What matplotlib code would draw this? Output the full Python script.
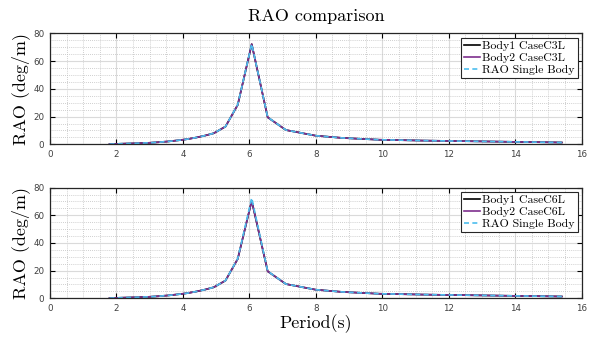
import numpy as np
import matplotlib.pyplot as plt
from matplotlib.ticker import MultipleLocator

# periods (s)
period = [1.79, 1.84, 1.89, 1.94, 2.00, 2.06, 2.12, 2.19, 2.26, 2.33, 2.41, 2.49,
          2.58, 2.68, 2.78, 2.89, 3.00, 3.13, 3.27, 3.41, 3.57, 3.75, 3.94, 4.15,
          4.38, 4.65, 4.93, 5.28, 5.65, 6.07, 6.55, 7.10, 8.00, 8.80, 9.90, 11.2,
          13.0, 15.4]

# top panel (case C3L)
body1_c3 = [0.1, 0.15, 0.2, 0.25, 0.3, 0.35, 0.4, 0.45, 0.5, 0.55, 0.6, 0.65,
            0.7, 0.8, 0.9, 1.0, 1.1, 1.3, 1.5, 1.8, 2.1, 2.6, 3.1, 3.8,
            4.8, 6.2, 8.0, 12.8, 28.5, 72.3, 19.5, 10.3, 6.2, 4.6, 3.3, 2.7,
            2.1, 1.3]
body2_c3 = list(body1_c3)
single = [0.1, 0.15, 0.2, 0.25, 0.3, 0.35, 0.4, 0.45, 0.5, 0.55, 0.6, 0.65,
          0.7, 0.8, 0.9, 1.0, 1.1, 1.3, 1.5, 1.8, 2.1, 2.6, 3.1, 3.8,
          4.8, 6.2, 8.0, 12.8, 28.8, 72.5, 19.6, 10.3, 6.2, 4.6, 3.3, 2.7,
          2.1, 1.3]

# bottom panel (case C6L)
body1_c6 = [0.1, 0.15, 0.2, 0.25, 0.3, 0.35, 0.4, 0.45, 0.5, 0.55, 0.6, 0.65,
            0.7, 0.8, 0.9, 1.0, 1.1, 1.3, 1.5, 1.8, 2.1, 2.6, 3.1, 3.8,
            4.8, 6.2, 8.0, 12.8, 28.5, 70.5, 19.5, 10.3, 6.2, 4.6, 3.3, 2.7,
            2.1, 1.3]
body2_c6 = list(body1_c6)

panels = [("Body1 CaseC3L", "Body2 CaseC3L", body1_c3, body2_c3),
          ("Body1 CaseC6L", "Body2 CaseC6L", body1_c6, body2_c6)]

cm = 'cmr10'
fig = plt.figure(figsize=(5.93, 3.41), dpi=100)
positions = [[0.0843, 0.5768, 0.8967, 0.325], [0.0843, 0.1252, 0.8967, 0.3247]]

for pos, (l1, l2, b1, b2) in zip(positions, panels):
    ax = fig.add_axes(pos)
    ax.plot(period, b1, color='black', lw=1.2, label=l1)
    ax.plot(period, b2, color='#7E2F8E', lw=1.2, label=l2)
    ax.plot(period, single, color='#4DBEEE', lw=1.2, ls=(0, (3, 2)), label='RAO Single Body')
    ax.set_xlim(0, 16)
    ax.set_ylim(0, 80)
    ax.xaxis.set_major_locator(MultipleLocator(2))
    ax.xaxis.set_minor_locator(MultipleLocator(0.5))
    ax.yaxis.set_major_locator(MultipleLocator(20))
    ax.yaxis.set_minor_locator(MultipleLocator(5))
    ax.grid(which='major', color='#dadada', lw=0.8, ls='-')
    ax.grid(which='minor', color='#c0c0c0', lw=0.6, ls=(0, (1, 1.5)))
    ax.set_axisbelow(True)
    ax.tick_params(which='major', direction='in', top=True, right=True, length=3.5,
                   width=0.8, labelsize=6.3, labelcolor='#404040', pad=4)
    ax.tick_params(which='minor', length=0)
    for s in ax.spines.values():
        s.set_linewidth(0.9)
        s.set_color('#262626')
    ax.set_ylabel('RAO (deg/m)', family=cm, fontsize=13, labelpad=2)
    leg = ax.legend(loc='upper right', prop={'family': cm, 'size': 8.5}, fancybox=False,
                    edgecolor='#262626', framealpha=1, handlelength=1.4, handletextpad=0.15,
                    borderpad=0.25, labelspacing=0.15, borderaxespad=0.35)
    leg.get_frame().set_linewidth(0.8)
    if pos is positions[0]:
        ax.set_title('RAO comparison', family=cm, fontsize=13, pad=9)
    else:
        ax.set_xlabel('Period(s)', family=cm, fontsize=13, labelpad=1)

fig.savefig('out.png', dpi=100)
